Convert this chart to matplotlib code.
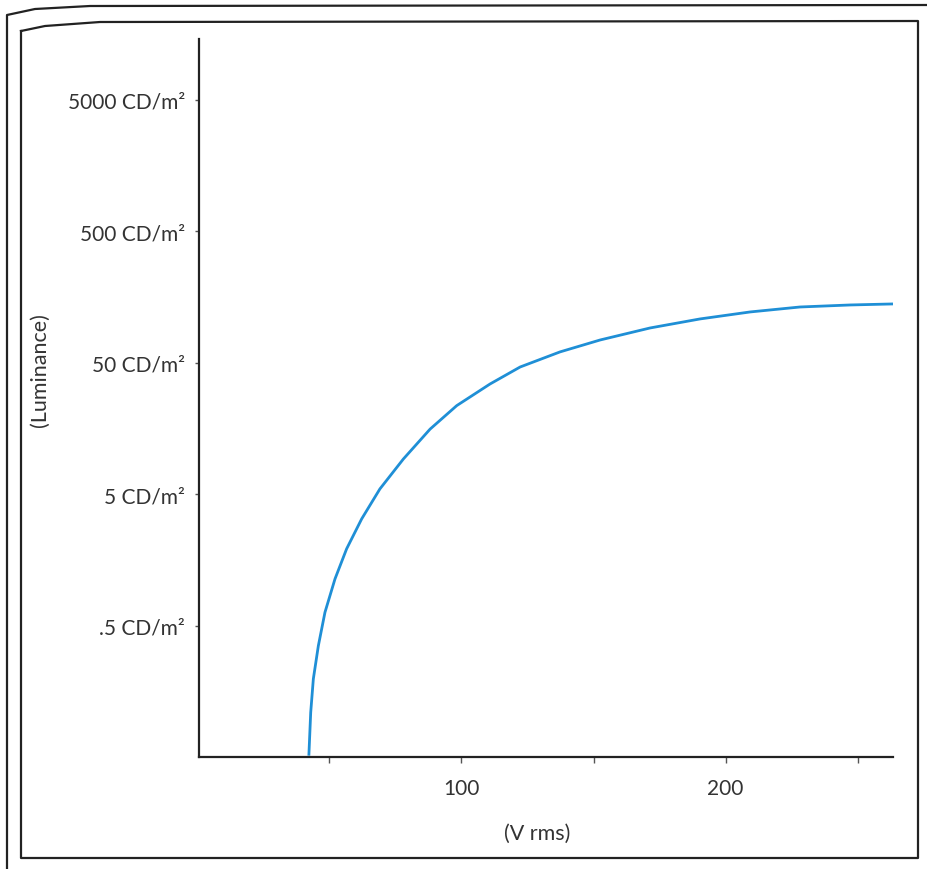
import matplotlib

matplotlib.use("Agg")

import matplotlib.pyplot as plt
from matplotlib.lines import Line2D
from matplotlib.ticker import FixedLocator, NullLocator

# voltage (V rms) vs luminance (CD/m2)
voltage = [42.2, 42.9, 43.9, 45.8, 48.3, 52.1, 56.5, 62.2, 69.1, 78.0, 88.1,
           98.2, 110.8, 122.2, 137.3, 152.5, 171.4, 190.3, 209.3, 228.2, 247.2, 263.4]
luminance = [0.0516, 0.110, 0.198, 0.354, 0.635, 1.14, 1.93, 3.26, 5.51, 9.31, 15.7,
             23.7, 34.6, 46.6, 60.7, 74.8, 92.3, 108.1, 122.2, 133.3, 138.1, 140.6]

y_ticks = [0.5, 5, 50, 500, 5000]
y_tick_labels = [".5 CD/m²", "5 CD/m²", "50 CD/m²", "500 CD/m²", "5000 CD/m²"]
x_ticks = [50, 100, 150, 200, 250]
x_tick_labels = ["", "100", "", "200", ""]

W, H = 928, 870
plt.rcParams["font.family"] = ["Lato", "DejaVu Sans"]

fig = plt.figure(figsize=(W / 100, H / 100), dpi=100, facecolor="white")


def px(x, y):
    return x / W, 1 - y / H


# scanned page frame (inner box + outer edge)
frame_color = "#222222"
inner = [px(21, 32), px(45, 27), px(100, 23), px(918, 22),
         px(918, 859), px(21, 859), px(21, 32)]
fig.add_artist(Line2D([p[0] for p in inner], [p[1] for p in inner],
                      color=frame_color, lw=1.6, transform=fig.transFigure))
outer = [px(7, 870), px(7, 16), px(35, 10), px(90, 7), px(928, 6)]
fig.add_artist(Line2D([p[0] for p in outer], [p[1] for p in outer],
                      color=frame_color, lw=1.6, transform=fig.transFigure))

ax = fig.add_axes([199 / W, 1 - 758 / H, (893 - 199) / W, (758 - 40) / H])
ax.set_facecolor("none")

ax.plot(voltage, luminance, color="#1f8fd6", lw=2.0, solid_capstyle="butt")

ax.set_yscale("log")
ax.set_xlim(0.6, 263.4)
ax.set_ylim(0.0504, 14550)

ax.yaxis.set_major_locator(FixedLocator(y_ticks))
ax.yaxis.set_minor_locator(NullLocator())
ax.set_yticklabels(y_tick_labels, fontsize=15, color="#333333")
ax.xaxis.set_major_locator(FixedLocator(x_ticks))
ax.set_xticklabels(x_tick_labels, fontsize=15, color="#333333")

ax.tick_params(axis="y", direction="out", length=3, width=1, pad=7, color="#555555")
ax.tick_params(axis="x", direction="out", length=4, width=1, pad=11, color="#555555")

for side in ["top", "right"]:
    ax.spines[side].set_visible(False)
for side in ["left", "bottom"]:
    ax.spines[side].set_linewidth(1.6)
    ax.spines[side].set_color("#222222")

fig.text(537 / W, 1 - 834 / H, "(V rms)", ha="center", va="center",
         fontsize=15.5, color="#333333")
fig.text(40 / W, 1 - 370 / H, "(Luminance)", ha="center", va="center",
         rotation=90, fontsize=15.5, color="#333333")

fig.savefig("out.png", dpi=100, facecolor="white")
